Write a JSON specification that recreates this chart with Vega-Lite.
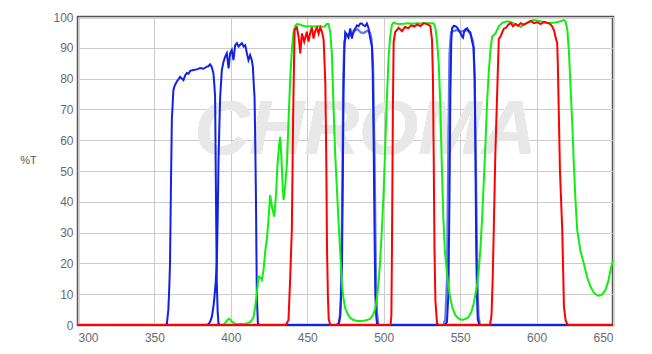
{
  "$schema": "https://vega.github.io/schema/vega-lite/v6.json",
  "width": 535,
  "height": 308,
  "autosize": {"type": "none"},
  "padding": {"left": 78, "top": 17, "right": 39, "bottom": 29},
  "background": "white",
  "config": {
    "view": {"stroke": "#555555", "strokeWidth": 2.5},
    "axis": {"labelFont": "Liberation Sans", "labelFontSize": 12, "labelColor": "#6a6a6a", "gridColor": "#cccccc", "gridWidth": 1, "domain": false, "ticks": false, "labelOverlap": false},
    "axisX": {"title": null, "grid": true, "labelPadding": 7},
    "axisY": {"grid": true, "labelPadding": 5, "titleAngle": 0, "titleX": -50, "titleY": 143, "titleAlign": "center", "titleBaseline": "middle", "titleFont": "Liberation Sans", "titleFontSize": 11, "titleFontWeight": "normal", "titleColor": "#555555"},
    "scale": {"zero": false}
  },
  "data": {"values": [
    {"s":"r","x":300,"y":0},{"s":"r","x":436,"y":0},{"s":"r","x":437.7,"y":1.6},{"s":"r","x":438.8,"y":15},{"s":"r","x":439.9,"y":31},{"s":"r","x":440.8,"y":70},{"s":"r","x":441.7,"y":95.8},{"s":"r","x":443.2,"y":96.6},{"s":"r","x":444.5,"y":93},{"s":"r","x":445.4,"y":88.2},{"s":"r","x":446.5,"y":94.6},{"s":"r","x":448,"y":92},{"s":"r","x":449.7,"y":95.2},{"s":"r","x":450.8,"y":92},{"s":"r","x":452,"y":95},{"s":"r","x":453,"y":96.6},{"s":"r","x":454.1,"y":93},{"s":"r","x":455.2,"y":95.5},{"s":"r","x":456.3,"y":96.6},{"s":"r","x":457.4,"y":94.6},{"s":"r","x":458.5,"y":96.6},{"s":"r","x":459.6,"y":95.2},{"s":"r","x":460.7,"y":92.6},{"s":"r","x":461.3,"y":85},{"s":"r","x":461.8,"y":78.5},{"s":"r","x":462.4,"y":55},{"s":"r","x":462.9,"y":25},{"s":"r","x":463.5,"y":9},{"s":"r","x":464,"y":2},{"s":"r","x":465,"y":0},{"s":"r","x":504.5,"y":0},{"s":"r","x":505,"y":3},{"s":"r","x":505.4,"y":25},{"s":"r","x":506,"y":70},{"s":"r","x":506.5,"y":92},{"s":"r","x":507.6,"y":95.2},{"s":"r","x":509.8,"y":96.5},{"s":"r","x":512,"y":95.4},{"s":"r","x":514,"y":96.8},{"s":"r","x":516,"y":96.3},{"s":"r","x":518,"y":97.3},{"s":"r","x":520,"y":96.9},{"s":"r","x":522,"y":97.6},{"s":"r","x":524,"y":97},{"s":"r","x":526.1,"y":98},{"s":"r","x":528.3,"y":97.7},{"s":"r","x":530.5,"y":97.1},{"s":"r","x":531.6,"y":92.5},{"s":"r","x":532.2,"y":80},{"s":"r","x":532.7,"y":55},{"s":"r","x":533.2,"y":25},{"s":"r","x":533.8,"y":8},{"s":"r","x":534.9,"y":0.5},{"s":"r","x":536,"y":0},{"s":"r","x":569.5,"y":0},{"s":"r","x":570.5,"y":3},{"s":"r","x":571.3,"y":15},{"s":"r","x":572,"y":31},{"s":"r","x":573,"y":55},{"s":"r","x":574.2,"y":75},{"s":"r","x":575.3,"y":93},{"s":"r","x":576.4,"y":93.6},{"s":"r","x":577.5,"y":95},{"s":"r","x":578.6,"y":96.2},{"s":"r","x":580,"y":96.5},{"s":"r","x":581.5,"y":97.5},{"s":"r","x":583,"y":98.1},{"s":"r","x":584.6,"y":97},{"s":"r","x":586.3,"y":97.7},{"s":"r","x":588,"y":97.2},{"s":"r","x":589.5,"y":98},{"s":"r","x":591.5,"y":97.5},{"s":"r","x":593.9,"y":98.1},{"s":"r","x":596.1,"y":98.7},{"s":"r","x":598.3,"y":98},{"s":"r","x":600.5,"y":98.3},{"s":"r","x":602.6,"y":97.7},{"s":"r","x":604.8,"y":98.4},{"s":"r","x":607,"y":98.1},{"s":"r","x":608.7,"y":97.8},{"s":"r","x":610.2,"y":97},{"s":"r","x":611.5,"y":95.5},{"s":"r","x":612.4,"y":93.5},{"s":"r","x":613.5,"y":91.5},{"s":"r","x":613.9,"y":84.7},{"s":"r","x":614.5,"y":70},{"s":"r","x":615.3,"y":50},{"s":"r","x":616.8,"y":30.8},{"s":"r","x":617.9,"y":5.9},{"s":"r","x":619,"y":1.5},{"s":"r","x":620.1,"y":0.3},{"s":"r","x":621,"y":0},{"s":"r","x":650,"y":0},

    {"s":"g","x":300,"y":0},{"s":"g","x":395,"y":0},{"s":"g","x":396.5,"y":0.8},{"s":"g","x":397.5,"y":1.5},{"s":"g","x":398.5,"y":2},{"s":"g","x":399.5,"y":1.8},{"s":"g","x":400.5,"y":1.2},{"s":"g","x":401.7,"y":0.7},{"s":"g","x":404,"y":0.3},{"s":"g","x":408,"y":0.3},{"s":"g","x":411,"y":0.6},{"s":"g","x":412.6,"y":0.9},{"s":"g","x":414,"y":1.8},{"s":"g","x":414.8,"y":2.5},{"s":"g","x":415.9,"y":5.9},{"s":"g","x":417,"y":10.3},{"s":"g","x":418.1,"y":15.7},{"s":"g","x":419.2,"y":15.5},{"s":"g","x":420.3,"y":14.6},{"s":"g","x":421.4,"y":17.9},{"s":"g","x":422.5,"y":24},{"s":"g","x":423.6,"y":28},{"s":"g","x":424.6,"y":34},{"s":"g","x":425.7,"y":42.2},{"s":"g","x":427,"y":38},{"s":"g","x":428.4,"y":35.2},{"s":"g","x":429.5,"y":42},{"s":"g","x":430.5,"y":52},{"s":"g","x":431.5,"y":58},{"s":"g","x":432.3,"y":61.1},{"s":"g","x":433,"y":55},{"s":"g","x":433.8,"y":46},{"s":"g","x":434.5,"y":40.6},{"s":"g","x":435.5,"y":45},{"s":"g","x":436.7,"y":52.5},{"s":"g","x":437.7,"y":66},{"s":"g","x":438.8,"y":79.5},{"s":"g","x":440,"y":90},{"s":"g","x":441,"y":95},{"s":"g","x":442,"y":97},{"s":"g","x":443.2,"y":97.7},{"s":"g","x":445,"y":97.6},{"s":"g","x":447.6,"y":97.1},{"s":"g","x":450,"y":96.9},{"s":"g","x":452,"y":97},{"s":"g","x":455,"y":96.9},{"s":"g","x":458.5,"y":96.9},{"s":"g","x":460,"y":96.8},{"s":"g","x":461.5,"y":97},{"s":"g","x":462.8,"y":97.7},{"s":"g","x":463.9,"y":97.7},{"s":"g","x":465,"y":95.2},{"s":"g","x":466.1,"y":88},{"s":"g","x":467.2,"y":70},{"s":"g","x":468.3,"y":55},{"s":"g","x":469.4,"y":44},{"s":"g","x":470.5,"y":33},{"s":"g","x":471.6,"y":23},{"s":"g","x":472.7,"y":13},{"s":"g","x":473.7,"y":8.5},{"s":"g","x":474.8,"y":5.5},{"s":"g","x":476.5,"y":3.5},{"s":"g","x":478.1,"y":2.3},{"s":"g","x":480.3,"y":1.6},{"s":"g","x":482.5,"y":1.3},{"s":"g","x":485,"y":1.3},{"s":"g","x":487,"y":1.4},{"s":"g","x":489,"y":1.6},{"s":"g","x":491,"y":2},{"s":"g","x":492.3,"y":2.7},{"s":"g","x":493.4,"y":3.8},{"s":"g","x":494.5,"y":5.4},{"s":"g","x":495.6,"y":9},{"s":"g","x":496.7,"y":14},{"s":"g","x":497.8,"y":22},{"s":"g","x":498.9,"y":32},{"s":"g","x":500,"y":44},{"s":"g","x":501,"y":58},{"s":"g","x":502.1,"y":74},{"s":"g","x":503.2,"y":87},{"s":"g","x":504.3,"y":94},{"s":"g","x":505.4,"y":97.5},{"s":"g","x":506.5,"y":98.2},{"s":"g","x":508,"y":97.9},{"s":"g","x":510,"y":97.7},{"s":"g","x":513,"y":97.8},{"s":"g","x":516,"y":98},{"s":"g","x":519,"y":97.8},{"s":"g","x":522,"y":98},{"s":"g","x":524,"y":97.9},{"s":"g","x":527,"y":98},{"s":"g","x":530.5,"y":98},{"s":"g","x":532.7,"y":97.9},{"s":"g","x":533.8,"y":96.5},{"s":"g","x":534.9,"y":92},{"s":"g","x":536,"y":85},{"s":"g","x":537,"y":72},{"s":"g","x":538,"y":52},{"s":"g","x":539,"y":35},{"s":"g","x":540,"y":24},{"s":"g","x":541.4,"y":17},{"s":"g","x":542.5,"y":12},{"s":"g","x":543.6,"y":8.5},{"s":"g","x":545,"y":5.5},{"s":"g","x":546.9,"y":3.2},{"s":"g","x":548.5,"y":2.3},{"s":"g","x":550.2,"y":1.8},{"s":"g","x":552,"y":1.7},{"s":"g","x":554.6,"y":2.2},{"s":"g","x":555.6,"y":2.7},{"s":"g","x":557.5,"y":4.5},{"s":"g","x":558.9,"y":7},{"s":"g","x":560,"y":10},{"s":"g","x":561.1,"y":13},{"s":"g","x":562.2,"y":18},{"s":"g","x":563.3,"y":25},{"s":"g","x":564.4,"y":35},{"s":"g","x":565.5,"y":47},{"s":"g","x":566.5,"y":58},{"s":"g","x":567.6,"y":72},{"s":"g","x":568.7,"y":82},{"s":"g","x":569.8,"y":89},{"s":"g","x":570.9,"y":93.6},{"s":"g","x":573.1,"y":94.7},{"s":"g","x":575.3,"y":97},{"s":"g","x":577.5,"y":98.1},{"s":"g","x":580.8,"y":98.6},{"s":"g","x":583,"y":98.4},{"s":"g","x":585.2,"y":97.9},{"s":"g","x":587.4,"y":97.3},{"s":"g","x":589.5,"y":96.8},{"s":"g","x":591.7,"y":97.5},{"s":"g","x":593.9,"y":98.1},{"s":"g","x":596.1,"y":98.7},{"s":"g","x":598.3,"y":99},{"s":"g","x":600.5,"y":98.8},{"s":"g","x":602.6,"y":98.6},{"s":"g","x":605,"y":98.3},{"s":"g","x":607,"y":98.1},{"s":"g","x":609.2,"y":98.1},{"s":"g","x":611.4,"y":98.1},{"s":"g","x":613.5,"y":98.4},{"s":"g","x":615.7,"y":98.6},{"s":"g","x":617.9,"y":99},{"s":"g","x":619,"y":98.5},{"s":"g","x":620.1,"y":96},{"s":"g","x":621.2,"y":88.5},{"s":"g","x":622.2,"y":77.7},{"s":"g","x":623.3,"y":66},{"s":"g","x":624.4,"y":52},{"s":"g","x":625.5,"y":40},{"s":"g","x":626.6,"y":30.8},{"s":"g","x":628.7,"y":24},{"s":"g","x":630.9,"y":20},{"s":"g","x":633.1,"y":15.5},{"s":"g","x":635.3,"y":12.4},{"s":"g","x":637.5,"y":10.5},{"s":"g","x":639.6,"y":9.6},{"s":"g","x":640.7,"y":9.5},{"s":"g","x":642.9,"y":9.9},{"s":"g","x":645.1,"y":11.4},{"s":"g","x":646.8,"y":14},{"s":"g","x":648.4,"y":17.9},{"s":"g","x":650,"y":21},

    {"s":"b1","x":300,"y":0},{"s":"b1","x":357,"y":0},{"s":"b1","x":358.1,"y":0.3},{"s":"b1","x":359.1,"y":4.9},{"s":"b1","x":359.7,"y":12},{"s":"b1","x":360.2,"y":20},{"s":"b1","x":360.8,"y":45},{"s":"b1","x":361.4,"y":66.6},{"s":"b1","x":362.4,"y":76.3},{"s":"b1","x":363.5,"y":78},{"s":"b1","x":364.6,"y":79},{"s":"b1","x":365.7,"y":79.8},{"s":"b1","x":366.8,"y":80.6},{"s":"b1","x":367.9,"y":80},{"s":"b1","x":369,"y":79.5},{"s":"b1","x":370.1,"y":81},{"s":"b1","x":371.2,"y":81.8},{"s":"b1","x":372.3,"y":81.6},{"s":"b1","x":373.4,"y":82.5},{"s":"b1","x":375.5,"y":82.8},{"s":"b1","x":377.7,"y":83},{"s":"b1","x":379.9,"y":83.4},{"s":"b1","x":382.1,"y":83.2},{"s":"b1","x":384.3,"y":83.9},{"s":"b1","x":385.3,"y":84},{"s":"b1","x":386.4,"y":84.6},{"s":"b1","x":387.5,"y":83.8},{"s":"b1","x":388.6,"y":81.7},{"s":"b1","x":389.2,"y":78},{"s":"b1","x":389.7,"y":74},{"s":"b1","x":390.2,"y":45},{"s":"b1","x":390.8,"y":13.6},{"s":"b1","x":391.4,"y":4},{"s":"b1","x":391.9,"y":0.5},{"s":"b1","x":393,"y":0},

    {"s":"b2","x":383,"y":0},{"s":"b2","x":385.3,"y":0.2},{"s":"b2","x":386.4,"y":1},{"s":"b2","x":387.6,"y":2.7},{"s":"b2","x":388.6,"y":6},{"s":"b2","x":389.3,"y":9.2},{"s":"b2","x":390.1,"y":14},{"s":"b2","x":390.8,"y":20},{"s":"b2","x":391.4,"y":35},{"s":"b2","x":391.9,"y":52.6},{"s":"b2","x":392.5,"y":65},{"s":"b2","x":393,"y":74},{"s":"b2","x":394.1,"y":82.8},{"s":"b2","x":395.2,"y":85.5},{"s":"b2","x":396.3,"y":87.1},{"s":"b2","x":397.4,"y":88.2},{"s":"b2","x":398.5,"y":83.3},{"s":"b2","x":399.5,"y":88.2},{"s":"b2","x":400.6,"y":89.3},{"s":"b2","x":401.7,"y":86},{"s":"b2","x":402.8,"y":90.8},{"s":"b2","x":403.9,"y":91.5},{"s":"b2","x":405,"y":90.4},{"s":"b2","x":406.1,"y":91},{"s":"b2","x":407.2,"y":91.5},{"s":"b2","x":408.3,"y":90.4},{"s":"b2","x":409.4,"y":90.8},{"s":"b2","x":410.5,"y":88.2},{"s":"b2","x":411.5,"y":86},{"s":"b2","x":412.6,"y":87.6},{"s":"b2","x":413.7,"y":86},{"s":"b2","x":414.4,"y":83.8},{"s":"b2","x":415,"y":78},{"s":"b2","x":415.5,"y":74},{"s":"b2","x":416,"y":58},{"s":"b2","x":416.4,"y":41.7},{"s":"b2","x":417,"y":9.2},{"s":"b2","x":417.7,"y":0.5},{"s":"b2","x":419,"y":0},

    {"s":"b3","x":417,"y":0},{"s":"b3","x":469,"y":0},{"s":"b3","x":470.5,"y":0.5},{"s":"b3","x":471.6,"y":3},{"s":"b3","x":472.7,"y":20},{"s":"b3","x":473.3,"y":50},{"s":"b3","x":473.7,"y":75},{"s":"b3","x":474.3,"y":90},{"s":"b3","x":474.8,"y":95},{"s":"b3","x":476,"y":94.2},{"s":"b3","x":477,"y":93.3},{"s":"b3","x":478.1,"y":96.3},{"s":"b3","x":479.2,"y":93},{"s":"b3","x":480.3,"y":95.5},{"s":"b3","x":481.4,"y":96.3},{"s":"b3","x":482.5,"y":97.3},{"s":"b3","x":483.5,"y":97},{"s":"b3","x":484.7,"y":97.9},{"s":"b3","x":485.7,"y":97.9},{"s":"b3","x":486.8,"y":97.3},{"s":"b3","x":487.9,"y":97},{"s":"b3","x":489,"y":97.9},{"s":"b3","x":490,"y":96.5},{"s":"b3","x":491.2,"y":93},{"s":"b3","x":492.3,"y":90.4},{"s":"b3","x":492.8,"y":82},{"s":"b3","x":493.4,"y":60},{"s":"b3","x":494,"y":30},{"s":"b3","x":494.5,"y":10},{"s":"b3","x":495.1,"y":3},{"s":"b3","x":495.6,"y":0.5},{"s":"b3","x":497,"y":0},{"s":"b3","x":540,"y":0},{"s":"b3","x":541.4,"y":1},{"s":"b3","x":542.3,"y":10},{"s":"b3","x":543,"y":40},{"s":"b3","x":543.6,"y":75},{"s":"b3","x":544.2,"y":92},{"s":"b3","x":544.7,"y":96.3},{"s":"b3","x":545.8,"y":97.1},{"s":"b3","x":546.9,"y":97},{"s":"b3","x":548,"y":96.6},{"s":"b3","x":549,"y":95.8},{"s":"b3","x":550.2,"y":94.8},{"s":"b3","x":551.3,"y":93.6},{"s":"b3","x":551.9,"y":93.3},{"s":"b3","x":552.5,"y":95},{"s":"b3","x":553.4,"y":96},{"s":"b3","x":554.6,"y":96.3},{"s":"b3","x":555.6,"y":95.5},{"s":"b3","x":556.7,"y":95},{"s":"b3","x":557.8,"y":92},{"s":"b3","x":558.9,"y":90},{"s":"b3","x":559.5,"y":80},{"s":"b3","x":560,"y":55},{"s":"b3","x":560.5,"y":25},{"s":"b3","x":561.1,"y":8},{"s":"b3","x":561.5,"y":2},{"s":"b3","x":562.5,"y":0},{"s":"b3","x":650,"y":0},

    {"s":"l3","x":465,"y":0},{"s":"l3","x":470,"y":0},{"s":"l3","x":471,"y":1},{"s":"l3","x":472,"y":8},{"s":"l3","x":472.8,"y":40},{"s":"l3","x":473.5,"y":80},{"s":"l3","x":474.2,"y":92},{"s":"l3","x":475.5,"y":93.5},{"s":"l3","x":477,"y":94.5},{"s":"l3","x":479,"y":94},{"s":"l3","x":481,"y":95.5},{"s":"l3","x":483,"y":96},{"s":"l3","x":485,"y":95},{"s":"l3","x":487,"y":94.8},{"s":"l3","x":489,"y":95.5},{"s":"l3","x":491,"y":95},{"s":"l3","x":492,"y":93},{"s":"l3","x":493,"y":85},{"s":"l3","x":494,"y":55},{"s":"l3","x":494.8,"y":20},{"s":"l3","x":495.6,"y":4},{"s":"l3","x":496.5,"y":0},{"s":"l3","x":539,"y":0},{"s":"l3","x":540.3,"y":2},{"s":"l3","x":541.4,"y":15},{"s":"l3","x":542.3,"y":60},{"s":"l3","x":543,"y":88},{"s":"l3","x":544,"y":95},{"s":"l3","x":546,"y":95.5},{"s":"l3","x":548,"y":95.8},{"s":"l3","x":550,"y":95.2},{"s":"l3","x":552,"y":95.5},{"s":"l3","x":554,"y":95.8},{"s":"l3","x":556,"y":95},{"s":"l3","x":557.5,"y":93.5},{"s":"l3","x":558.5,"y":92},{"s":"l3","x":559.5,"y":80},{"s":"l3","x":560.5,"y":45},{"s":"l3","x":561.3,"y":15},{"s":"l3","x":562,"y":3},{"s":"l3","x":563,"y":0}
  ]},
  "encoding": {
    "x": {"field": "x", "type": "quantitative", "scale": {"domain": [300, 650], "nice": false}, "axis": {"values": [300,350,400,450,500,550,600,650]}},
    "y": {"field": "y", "type": "quantitative", "scale": {"domain": [0, 100], "nice": false}, "title": "%T", "axis": {"values": [0,10,20,30,40,50,60,70,80,90,100]}}
  },
  "layer": [
    {
      "mark": {"type": "text", "text": "CHROMA", "font": "Liberation Sans", "fontSize": 76, "fontWeight": "bold", "fontStyle": "italic", "color": "#e8e8e8", "align": "center", "baseline": "middle"},
      "encoding": {
        "x": {"datum": 488, "type": "quantitative", "scale": {"domain": [300, 650], "nice": false}, "axis": {"values": [300,350,400,450,500,550,600,650]}},
        "y": {"datum": 63, "type": "quantitative", "scale": {"domain": [0, 100], "nice": false}, "title": "%T", "axis": {"values": [0,10,20,30,40,50,60,70,80,90,100]}}
      }
    },
    {
      "transform": [{"filter": "datum.s === 'l3'"}],
      "mark": {"type": "line", "color": "#6676ea", "strokeWidth": 2.2},
      "encoding": {"detail": {"field": "s"}}
    },
    {
      "transform": [{"filter": "datum.s === 'b1' || datum.s === 'b2' || datum.s === 'b3'"}],
      "mark": {"type": "line", "color": "#1222e0", "strokeWidth": 2},
      "encoding": {"detail": {"field": "s"}}
    },
    {
      "transform": [{"filter": "datum.s === 'g'"}],
      "mark": {"type": "line", "color": "#11ee11", "strokeWidth": 2},
      "encoding": {}
    },
    {
      "transform": [{"filter": "datum.s === 'r'"}],
      "mark": {"type": "line", "color": "#ff0000", "strokeWidth": 2},
      "encoding": {}
    }
  ]
}
